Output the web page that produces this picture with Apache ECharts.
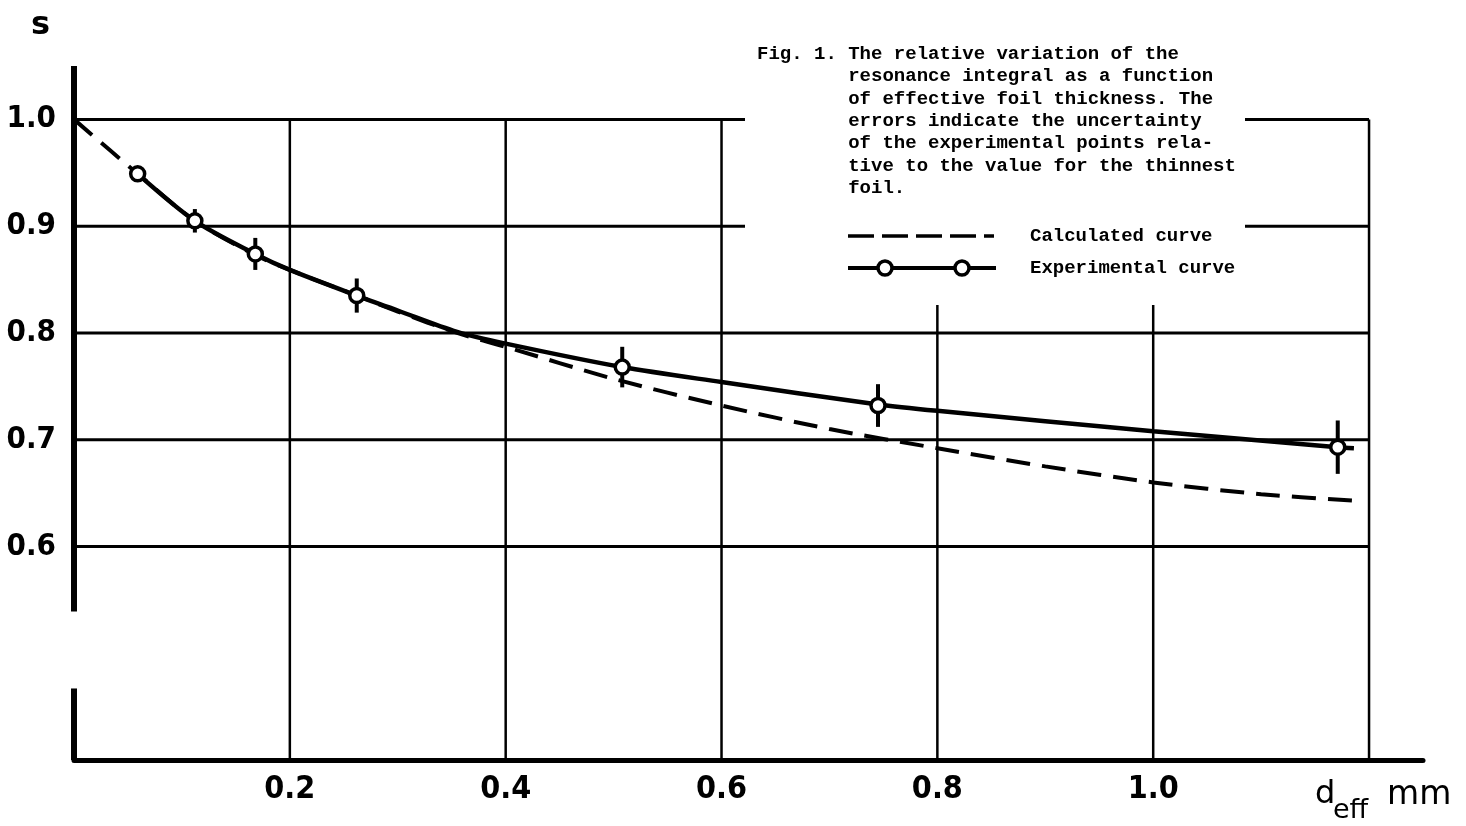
<!DOCTYPE html>
<html>
<head>
<meta charset="utf-8">
<script src="https://cdn.jsdelivr.net/npm/echarts@6/dist/echarts.min.js"></script>
<style>
  html, body { margin: 0; padding: 0; background: #fff; }
  #chart { width: 1466px; height: 826px; }
</style>
</head>
<body>
<div id="chart"></div>
<script>
// grid layout
const gridX = [0.2, 0.4, 0.6, 0.8, 1.0, 1.2];
const gridY = [0.6, 0.7, 0.8, 0.9, 1.0];
const xLabels = [0.2, 0.4, 0.6, 0.8, 1.0];
const yAxisParts = [[0.4, 0.467], [0.539, 1.05]];

// experimental points with error half-widths
const expX = [0.059, 0.112, 0.168, 0.262, 0.508, 0.745, 1.171];
const expY = [0.949, 0.905, 0.874, 0.835, 0.768, 0.732, 0.693];
const expErr = [0, 0.011, 0.015, 0.016, 0.019, 0.020, 0.025];

// experimental curve (solid)
const expCurveX = [0.059, 0.112, 0.168, 0.2, 0.262, 0.3, 0.355, 0.4, 0.508, 0.6, 0.745, 0.8, 1.0, 1.171, 1.186];
const expCurveY = [0.949, 0.905, 0.874, 0.859, 0.835, 0.821, 0.801, 0.790, 0.768, 0.754, 0.733, 0.727, 0.708, 0.693, 0.692];

// calculated curve (dashed)
const calcX = [0, 0.059, 0.112, 0.168, 0.2, 0.262, 0.3, 0.355, 0.4, 0.5, 0.6, 0.7, 0.8, 0.9, 1.0, 1.1, 1.186];
const calcY = [1.0, 0.949, 0.905, 0.873, 0.859, 0.835, 0.820, 0.800, 0.787, 0.757, 0.732, 0.710, 0.692, 0.675, 0.660, 0.649, 0.643];

const caption = [
  'Fig. 1. The relative variation of the',
  '        resonance integral as a function',
  '        of effective foil thickness. The',
  '        errors indicate the uncertainty',
  '        of the experimental points rela-',
  '        tive to the value for the thinnest',
  '        foil.'
];

const labelFont = '"DejaVu Sans Condensed", "Liberation Sans Narrow", sans-serif';
const monoFont = '"Liberation Mono", "DejaVu Sans Mono", monospace';
const capFont = 'bold 19px ' + monoFont;

const chart = echarts.init(document.getElementById('chart'), null, { renderer: 'canvas' });

function near(v, list) {
  return list.some((t) => Math.abs(t - v) < 1e-6);
}

function segRender(getA, getB, width) {
  return function (params, api) {
    const a = api.coord(getA(api));
    const b = api.coord(getB(api));
    return {
      type: 'line',
      shape: { x1: a[0], y1: a[1], x2: b[0], y2: b[1] },
      style: { stroke: '#000', lineWidth: width, lineCap: 'butt' }
    };
  };
}

const captionText = caption.map((line, i) => ({
  type: 'text',
  x: 757,
  y: 54 + i * 22.4,
  z: 20,
  style: { text: line, font: capFont, fill: '#000', verticalAlign: 'middle' }
}));

const opt = {
  backgroundColor: '#fff',
  animation: false,
  grid: { left: 74, right: 43, top: 66, bottom: 66 },
  xAxis: {
    type: 'value',
    min: 0,
    max: 1.25,
    interval: 0.2,
    axisLine: { show: true, lineStyle: { color: '#000', width: 5 } },
    axisTick: { show: false },
    splitLine: { show: false },
    axisLabel: {
      margin: 14,
      color: '#000',
      fontSize: 32,
      fontWeight: 'bold',
      fontFamily: labelFont,
      formatter: (v) => (near(v, xLabels) ? v.toFixed(1) : '')
    }
  },
  yAxis: {
    type: 'value',
    min: 0.4,
    max: 1.05,
    interval: 0.1,
    axisLine: { show: false },
    axisTick: { show: false },
    splitLine: { show: false },
    axisLabel: {
      margin: 18,
      color: '#000',
      fontSize: 31,
      fontWeight: 'bold',
      fontFamily: labelFont,
      formatter: (v) => (near(v, gridY) ? v.toFixed(1) : '')
    }
  },
  series: [
    {
      name: 'hgrid',
      type: 'custom',
      z: 1,
      silent: true,
      data: gridY.map((v) => [0, v, 1.2]),
      encode: { x: [0, 2], y: 1 },
      renderItem: segRender((api) => [api.value(0), api.value(1)], (api) => [api.value(2), api.value(1)], 3)
    },
    {
      name: 'vgrid',
      type: 'custom',
      z: 1,
      silent: true,
      data: gridX.map((v) => [v, 0.4, 1.0]),
      encode: { x: 0, y: [1, 2] },
      renderItem: segRender((api) => [api.value(0), api.value(1)], (api) => [api.value(0), api.value(2)], 2.5)
    },
    {
      name: 'yaxis',
      type: 'custom',
      z: 4,
      silent: true,
      data: yAxisParts.map((p) => [0, p[0], p[1]]),
      encode: { x: 0, y: [1, 2] },
      renderItem: segRender((api) => [api.value(0), api.value(1)], (api) => [api.value(0), api.value(2)], 6)
    },
    {
      name: 'Calculated curve',
      type: 'line',
      z: 6,
      smooth: 0.3,
      showSymbol: false,
      data: calcX.map((x, i) => [x, calcY[i]]),
      lineStyle: { color: '#000', width: 4, type: [24, 12] }
    },
    {
      name: 'Experimental curve',
      type: 'line',
      z: 7,
      smooth: 0.3,
      showSymbol: false,
      data: expCurveX.map((x, i) => [x, expCurveY[i]]),
      lineStyle: { color: '#000', width: 4.5 }
    },
    {
      name: 'errors',
      type: 'custom',
      z: 8,
      data: expX.map((x, i) => [x, expY[i] - expErr[i], expY[i] + expErr[i]]),
      encode: { x: 0, y: [1, 2] },
      renderItem: segRender((api) => [api.value(0), api.value(1)], (api) => [api.value(0), api.value(2)], 4)
    },
    {
      name: 'points',
      type: 'scatter',
      z: 9,
      symbol: 'circle',
      symbolSize: 14,
      data: expX.map((x, i) => [x, expY[i]]),
      itemStyle: { color: '#fff', borderColor: '#000', borderWidth: 3.5, opacity: 1 }
    }
  ],
  graphic: [
    // white caption area covering the grid lines
    {
      type: 'rect',
      z: 10,
      shape: { x: 745, y: 40, width: 500, height: 265 },
      style: { fill: '#fff' }
    },
    ...captionText,
    {
      type: 'line',
      z: 20,
      shape: { x1: 848, y1: 236, x2: 994, y2: 236 },
      style: { stroke: '#000', lineWidth: 3.5, lineDash: [26, 8] }
    },
    {
      type: 'text', x: 1030, y: 236, z: 20,
      style: { text: 'Calculated curve', font: capFont, fill: '#000', verticalAlign: 'middle' }
    },
    {
      type: 'line',
      z: 20,
      shape: { x1: 848, y1: 268, x2: 996, y2: 268 },
      style: { stroke: '#000', lineWidth: 4 }
    },
    {
      type: 'circle', z: 21,
      shape: { cx: 885, cy: 268, r: 7 },
      style: { fill: '#fff', stroke: '#000', lineWidth: 3.5 }
    },
    {
      type: 'circle', z: 21,
      shape: { cx: 962, cy: 268, r: 7 },
      style: { fill: '#fff', stroke: '#000', lineWidth: 3.5 }
    },
    {
      type: 'text', x: 1030, y: 268, z: 20,
      style: { text: 'Experimental curve', font: capFont, fill: '#000', verticalAlign: 'middle' }
    },
    // axis names
    {
      type: 'text', x: 31, y: 26, z: 20,
      style: { text: 's', font: 'bold 32px "DejaVu Sans", sans-serif', fill: '#000', verticalAlign: 'middle' }
    },
    {
      type: 'text', x: 1315, y: 811, z: 20,
      style: { text: 'd', font: '32px "DejaVu Sans", sans-serif', fill: '#000', verticalAlign: 'bottom' }
    },
    {
      type: 'text', x: 1333, y: 824, z: 20,
      style: { text: 'eff', font: '27px "DejaVu Sans", sans-serif', fill: '#000', verticalAlign: 'bottom' }
    },
    {
      type: 'text', x: 1387, y: 812, z: 20,
      style: { text: 'mm', font: '33px "DejaVu Sans", sans-serif', fill: '#000', verticalAlign: 'bottom' }
    }
  ]
};

chart.setOption(opt);
</script>
</body>
</html>
